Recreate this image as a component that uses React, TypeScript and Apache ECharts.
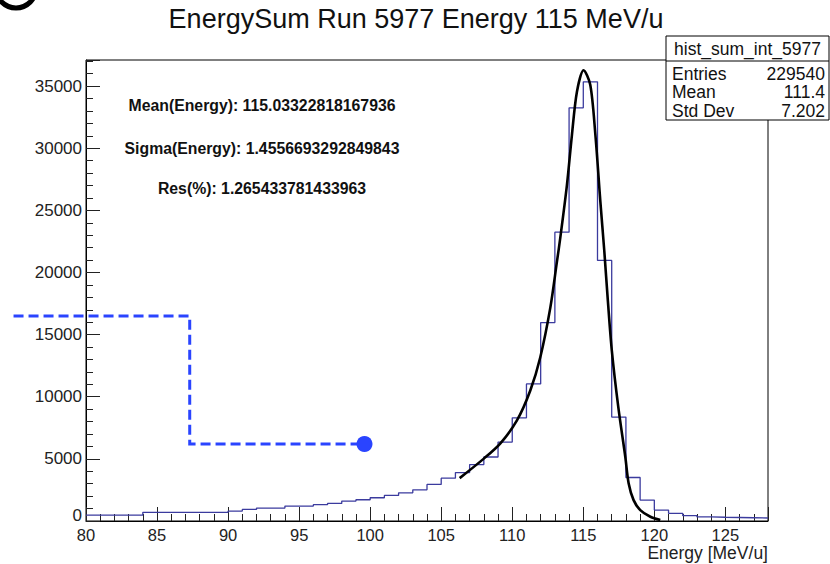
import React, { useEffect, useRef } from "react";
import * as echarts from "echarts";

const TITLE = "EnergySum Run 5977 Energy 115 MeV/u";
const X_MIN = 80;
const X_MAX = 128;
const Y_MAX = 37100;
const BIN_WIDTH = 1;

// histogram bin contents, bins [80,81), [81,82), ... [127,128)
const binCounts = [
  480, 480, 480, 480,
  700, 700, 700, 700, 700, 700,
  800, 935, 1040, 1040, 1200, 1200, 1310, 1415, 1600, 1710, 1870, 2055, 2270, 2510, 2940,
  3450, 3900, 4540, 5150, 6350, 8300, 11030, 15970, 23240, 33250, 35340,
  20970, 8360, 3500, 1680, 880, 615, 425, 330, 300, 280, 260, 240,
];

// fitted curve
const fitX = [106.3, 108.0, 109.15, 110.33, 111.27, 111.97, 112.68, 113.15, 113.38, 113.85, 114.2, 114.55, 115.02, 115.49, 115.85, 116.2, 116.48, 116.73, 117.01, 117.46, 117.96, 118.19, 118.54, 119.01, 119.72, 120.42];
const fitY = [3450, 5020, 6225, 8090, 10500, 13160, 17170, 20910, 22780, 27050, 31060, 34530, 36270, 35100, 31090, 25720, 21710, 17710, 13700, 9210, 5130, 3040, 1680, 880, 345, 80];

// blue dashed overlay
const overlayX = [74.9, 87.3, 87.3, 99.6];
const overlayY = [16500, 16500, 6200, 6200];

const statsName = "hist_sum_int_5977";
const statsLabels = ["Entries", "Mean", "Std Dev"];
const statsValues = ["229540", "111.4", "7.202"];

const notes = [
  "Mean(Energy): 115.03322818167936",
  "Sigma(Energy): 1.4556693292849843",
  "Res(%): 1.265433781433963",
];

const FONT = "Liberation Sans, Helvetica, Arial, sans-serif";

export default function App() {
  const ref = useRef<HTMLDivElement>(null);
  useEffect(() => {
    if (!ref.current) return;
    const chart = echarts.init(ref.current, null, { renderer: "svg" });

    const histData: number[][] = binCounts.map((v, i) => [X_MIN + i * BIN_WIDTH, v]);
    histData.push([X_MIN + binCounts.length * BIN_WIDTH, binCounts[binCounts.length - 1]]);
    const fitData = fitX.map((x, i) => [x, fitY[i]]);

    const boxL = 666, boxT = 36, boxR = 829, boxB = 120;
    const graphic: any[] = [
      {
        type: "text",
        x: 416,
        y: 19,
        style: { text: TITLE, font: `27px ${FONT}`, fill: "#111", textAlign: "center", textVerticalAlign: "middle" },
      },
      {
        type: "arc",
        shape: { cx: 16, cy: -12, r: 20, startAngle: 0, endAngle: Math.PI },
        style: { stroke: "#000", lineWidth: 5, fill: "none" },
      },
      {
        type: "rect",
        shape: { x: boxL, y: boxT, width: boxR - boxL, height: boxB - boxT },
        style: { fill: "#fff", stroke: "#000", lineWidth: 1 },
        z: 10,
      },
      {
        type: "line",
        shape: { x1: boxL, y1: 61, x2: boxR, y2: 61 },
        style: { stroke: "#000", lineWidth: 1 },
        z: 11,
      },
      {
        type: "text",
        x: (boxL + boxR) / 2,
        y: 49,
        style: { text: statsName, font: `17.5px ${FONT}`, fill: "#111", textAlign: "center", textVerticalAlign: "middle" },
        z: 11,
      },
      {
        type: "text",
        x: 768,
        y: 553,
        style: { text: "Energy [MeV/u]", font: `17.5px ${FONT}`, fill: "#222", textAlign: "right", textVerticalAlign: "middle", lineHeight: 17 },
      },
    ];
    statsLabels.forEach((l, i) => {
      const y = 74 + i * 18.3;
      graphic.push({
        type: "text", x: 672, y, z: 11,
        style: { text: l, font: `17.5px ${FONT}`, fill: "#111", textAlign: "left", textVerticalAlign: "middle" },
      });
      graphic.push({
        type: "text", x: 825, y, z: 11,
        style: { text: statsValues[i], font: `17.5px ${FONT}`, fill: "#111", textAlign: "right", textVerticalAlign: "middle" },
      });
    });
    const noteY = [105, 148, 188];
    notes.forEach((t, i) => {
      graphic.push({
        type: "text", x: 262, y: noteY[i],
        style: { text: t, font: `bold 15.8px ${FONT}`, fill: "#111", textAlign: "center", textVerticalAlign: "middle" },
      });
    });

    chart.setOption({
      animation: false,
      textStyle: { fontFamily: FONT },
      grid: { left: 86, right: 62, top: 60, bottom: 43, show: true, borderColor: "#000", borderWidth: 1, backgroundColor: "transparent" },
      xAxis: {
        type: "value",
        min: X_MIN,
        max: X_MAX,
        interval: 5,
        axisLine: { onZero: false, lineStyle: { color: "#000", width: 1 } },
        axisTick: { inside: true, length: 14, lineStyle: { color: "#222" } },
        minorTick: { show: true, splitNumber: 5, length: 7, lineStyle: { color: "#222" } },
        axisLabel: { color: "#222", fontSize: 16.5, lineHeight: 16, margin: 6, showMaxLabel: false },
        splitLine: { show: false },
      },
      yAxis: {
        type: "value",
        min: 0,
        max: Y_MAX,
        interval: 5000,
        axisLine: { onZero: false, lineStyle: { color: "#000", width: 1 } },
        axisTick: { inside: true, length: 14, lineStyle: { color: "#222" } },
        minorTick: { show: true, splitNumber: 5, length: 7, lineStyle: { color: "#222" } },
        axisLabel: {
          color: "#222", fontSize: 17, margin: 4, showMaxLabel: false,
          formatter: (v: number) => (v === 0 ? "{z|0}" : String(v)),
          rich: { z: { fontSize: 17, color: "#222", padding: [0, 0, 12, 0] } },
        },
        splitLine: { show: false },
      },
      series: [
        {
          type: "line",
          data: histData,
          step: "end",
          symbol: "none",
          lineStyle: { color: "#3b3b9e", width: 1.3 },
          z: 2,
        },
        {
          type: "line",
          data: fitData,
          smooth: 0.3,
          symbol: "none",
          lineStyle: { color: "#000", width: 2.6 },
          z: 3,
        },
      ],
      graphic,
    });

    // blue dashed overlay, positioned through the chart's own scales
    const pts = overlayX.map((x, i) => chart.convertToPixel({ gridIndex: 0 }, [x, overlayY[i]]) as number[]);
    const p80 = chart.convertToPixel({ gridIndex: 0 }, [X_MIN, 0]) as number[];
    const p90 = chart.convertToPixel({ gridIndex: 0 }, [X_MIN + 10, 0]) as number[];
    const pxPerUnit = (p90[0] - p80[0]) / 10;
    const fixed = pts.map((p, i) => (overlayX[i] < X_MIN ? [p80[0] + (overlayX[i] - X_MIN) * pxPerUnit, p[1]] : p));
    const lastPt = fixed[fixed.length - 1];
    chart.setOption({
      graphic: [
        ...graphic,
        {
          type: "polyline",
          shape: { points: fixed },
          style: { stroke: "#2a44ff", lineWidth: 3, lineDash: [10, 5], fill: "none" },
          z: 20,
        },
        {
          type: "circle",
          shape: { cx: lastPt[0], cy: lastPt[1], r: 8 },
          style: { fill: "#2a44ff" },
          z: 21,
        },
      ],
    });
    return () => chart.dispose();
  }, []);
  return <div ref={ref} style={{ position: "fixed", left: 0, top: 0, width: 830, height: 564, background: "#fff" }} />;
}
